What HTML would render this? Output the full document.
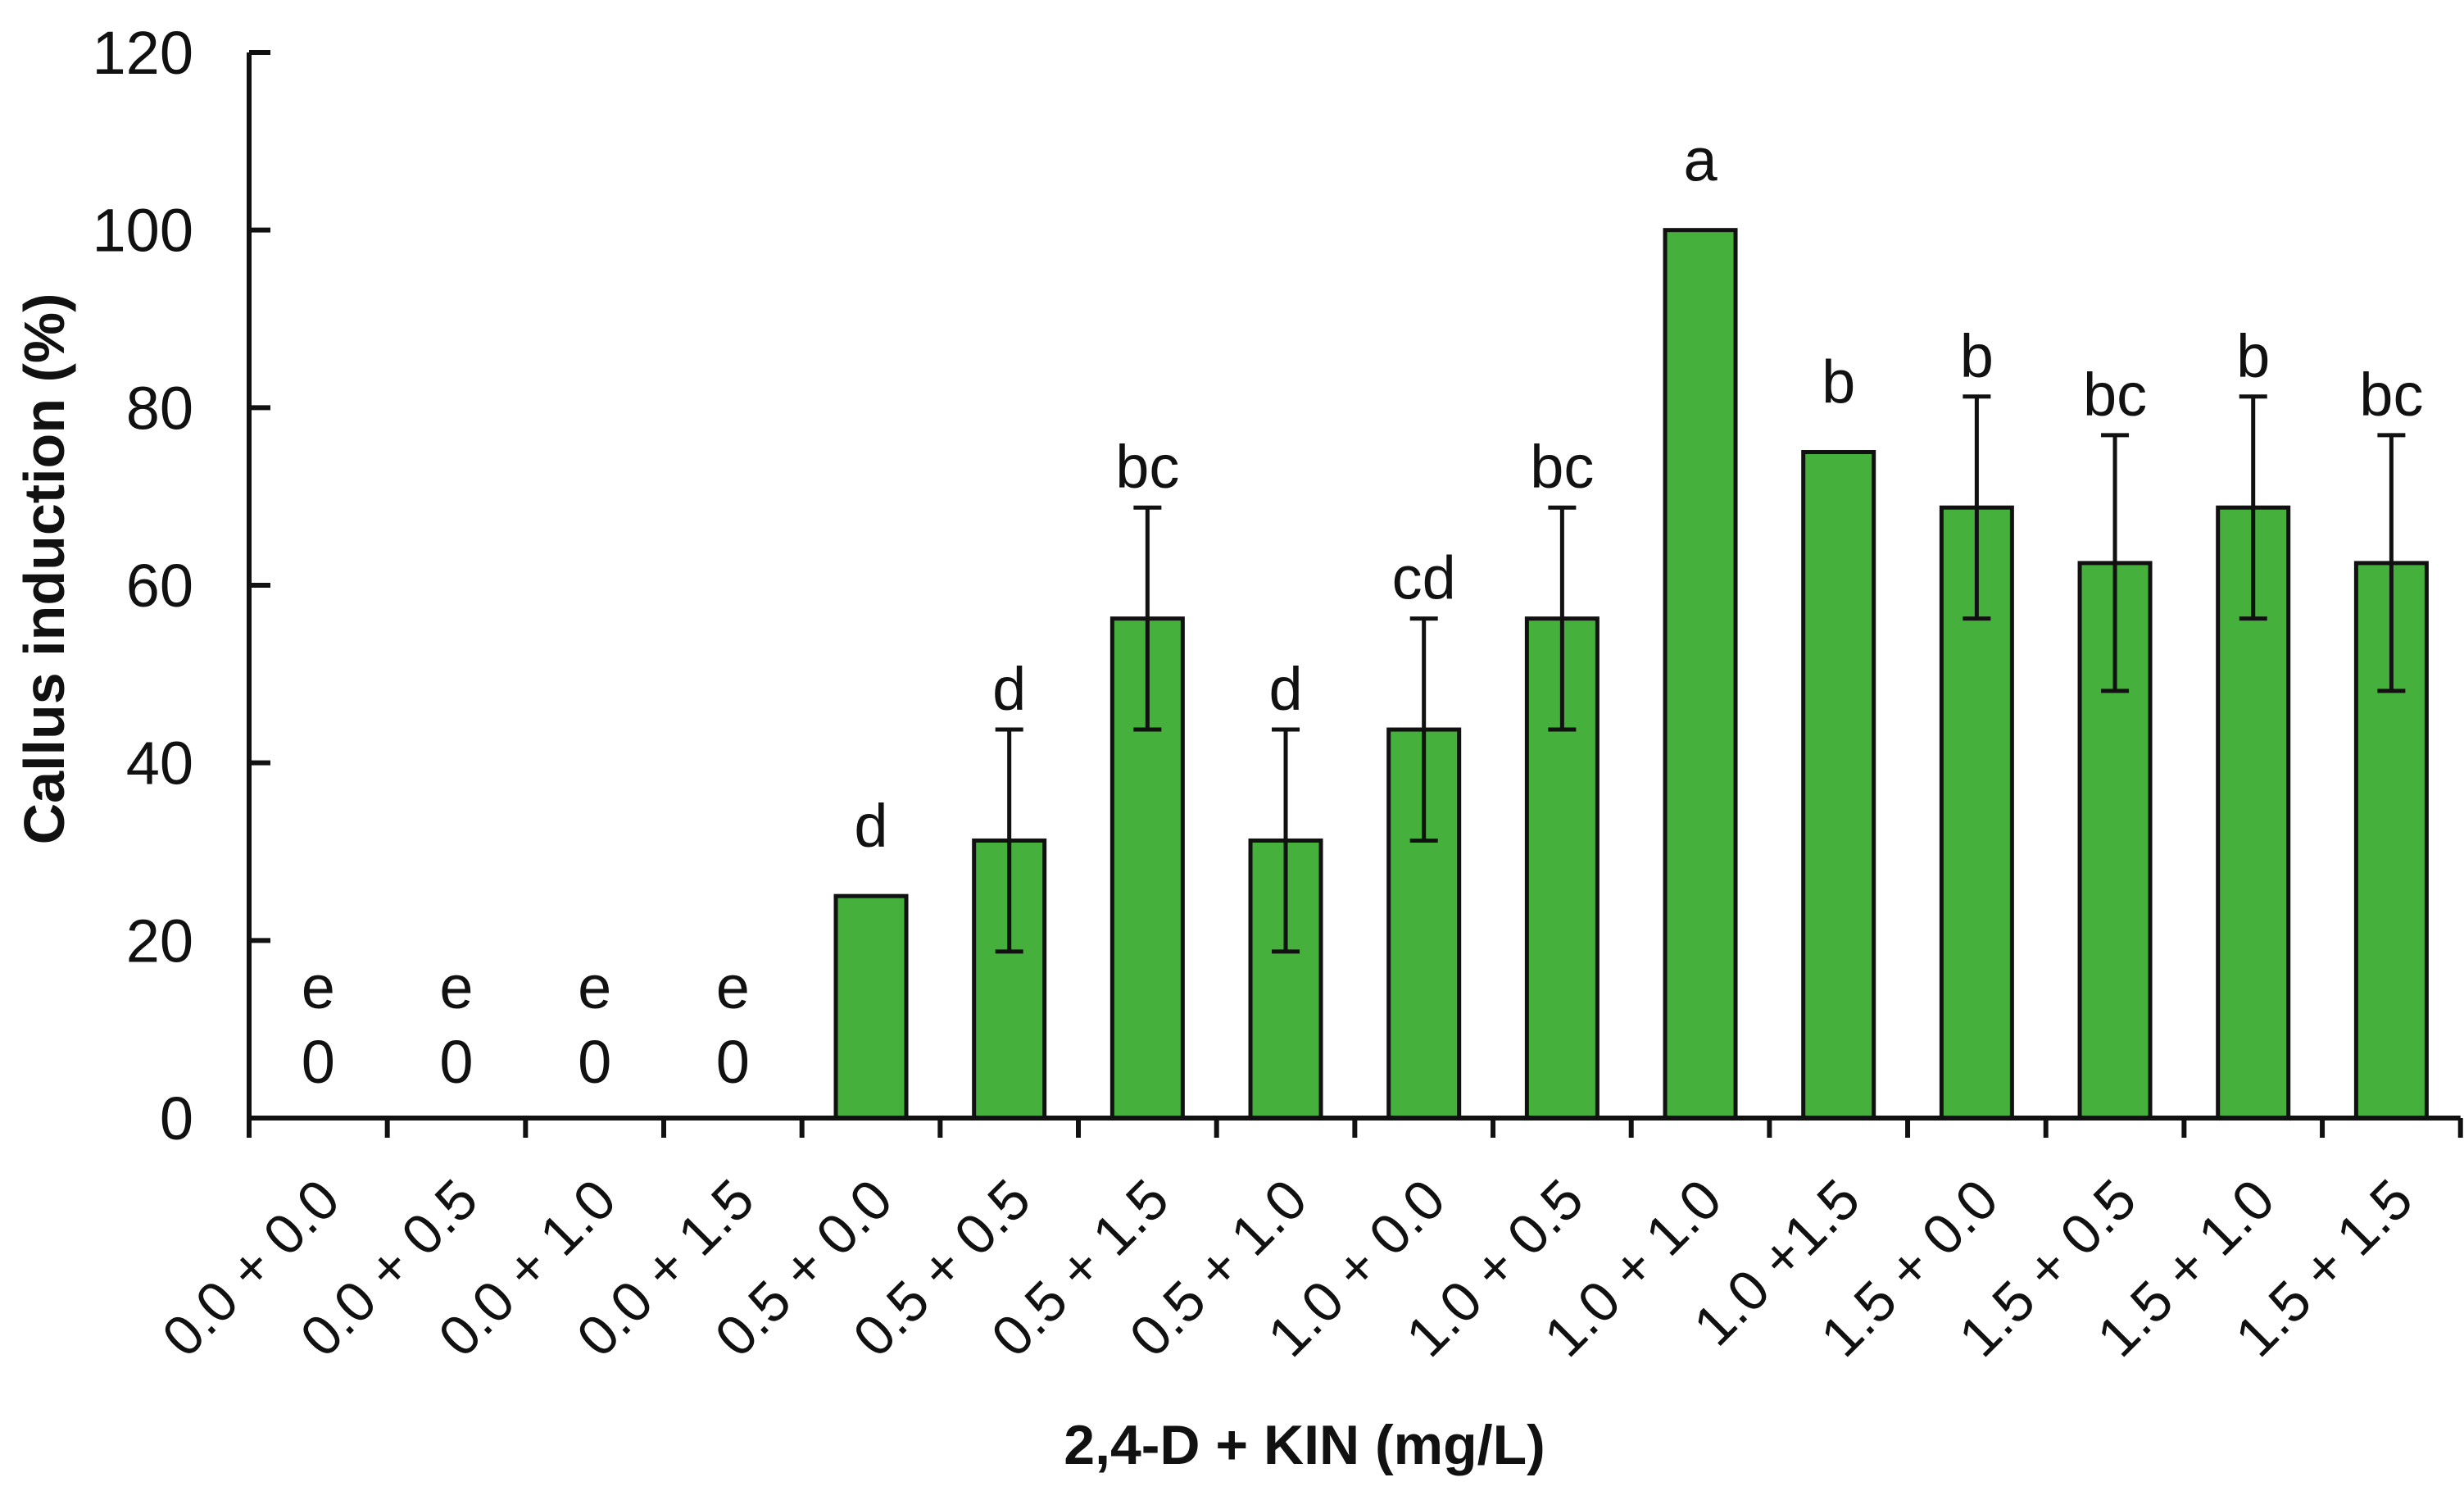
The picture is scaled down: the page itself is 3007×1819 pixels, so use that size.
<!DOCTYPE html>
<html><head><meta charset="utf-8"><style>body{margin:0;background:#fff}svg{display:block}</style></head>
<body>
<svg id="chart" width="3007" height="1819" xmlns="http://www.w3.org/2000/svg" font-family="Liberation Sans, Arial, sans-serif">
<g id="g"></g>
</svg>
<script>
const categories=["0.0 + 0.0","0.0 + 0.5","0.0 + 1.0","0.0 + 1.5","0.5 + 0.0","0.5 + 0.5","0.5 + 1.5","0.5 + 1.0","1.0 + 0.0","1.0 + 0.5","1.0 + 1.0","1.0 +1.5","1.5 + 0.0","1.5 + 0.5","1.5 + 1.0","1.5 + 1.5"];
const values=[0,0,0,0,25,31.25,56.25,31.25,43.75,56.25,100,75,68.75,62.5,68.75,62.5];
const errors=[0,0,0,0,0,12.5,12.5,12.5,12.5,12.5,0,0,12.5,14.4,12.5,14.4];
const letters=["e","e","e","e","d","d","bc","d","cd","bc","a","b","b","bc","b","bc"];
const yTicks=[0,20,40,60,80,100,120];

const NS="http://www.w3.org/2000/svg";
const g=document.getElementById('g');
const X0=304,STEP=168.67,Y0=1364,YTOP=64,YMAX=120;
const y=v=>Y0-(v/YMAX)*(Y0-YTOP);
const xc=i=>X0+(i+0.5)*STEP;
function mk(tag,attrs,txt){const e=document.createElementNS(NS,tag);for(const k in attrs)e.setAttribute(k,attrs[k]);if(txt!==undefined)e.textContent=txt;g.appendChild(e);return e;}

values.forEach((v,i)=>{
  if(v>0){
    const b=mk('rect',{x:xc(i)-43,y:y(v),width:86,height:Y0-y(v),fill:'#45b03b',stroke:'#111','stroke-width':5});
    
    
  }
  if(errors[i]>0){
    const t=y(v+errors[i]),bt=y(v-errors[i]);
    const e=mk('path',{d:`M${xc(i)},${t}V${bt}M${xc(i)-17},${t}H${xc(i)+17}M${xc(i)-17},${bt}H${xc(i)+17}`,stroke:'#111','stroke-width':5,fill:'none'});
    
    
  }
  let ly;
  if(v===0){
    const z=mk('text',{x:xc(i),y:1321,'text-anchor':'middle','font-size':74,fill:'#111'},'0');
    
    
    ly=1230;
  } else if(errors[i]>0){ ly=y(v+errors[i])-24; } else { ly=y(v)-60; }
  const l=mk('text',{x:xc(i),y:ly,'text-anchor':'middle','font-size':74,fill:'#111'},letters[i]);
  
  
  const ax_=xc(i)+30, ay_=1468;
  const c=mk('text',{x:ax_,y:ay_,'text-anchor':'end','font-size':69,fill:'#111',transform:`rotate(-45 ${ax_} ${ay_})`},categories[i]);
  
  
});
const ax=mk('path',{d:`M${X0},${YTOP}V${Y0}H${X0+16*STEP}`,stroke:'#111','stroke-width':6,fill:'none'});


yTicks.forEach(t=>{
  const tk=mk('line',{x1:X0,x2:X0+26,y1:y(t),y2:y(t),stroke:'#111','stroke-width':6});
  
  
  const tl=mk('text',{x:236,y:y(t)+26,'text-anchor':'end','font-size':74,fill:'#111'},String(t));
  
  
});
for(let i=0;i<=16;i++){
  const tk=mk('line',{x1:X0+i*STEP,x2:X0+i*STEP,y1:Y0,y2:Y0+24,stroke:'#111','stroke-width':6});
  
  
}
const yt=mk('text',{x:78,y:694,'text-anchor':'middle','font-size':70,'font-weight':'bold',fill:'#111',transform:'rotate(-90 78 694)'},'Callus induction (%)');


const xt=mk('text',{x:1592,y:1786,'text-anchor':'middle','font-size':68,'font-weight':'bold',fill:'#111'},'2,4-D + KIN (mg/L)');


</script>
</body></html>
